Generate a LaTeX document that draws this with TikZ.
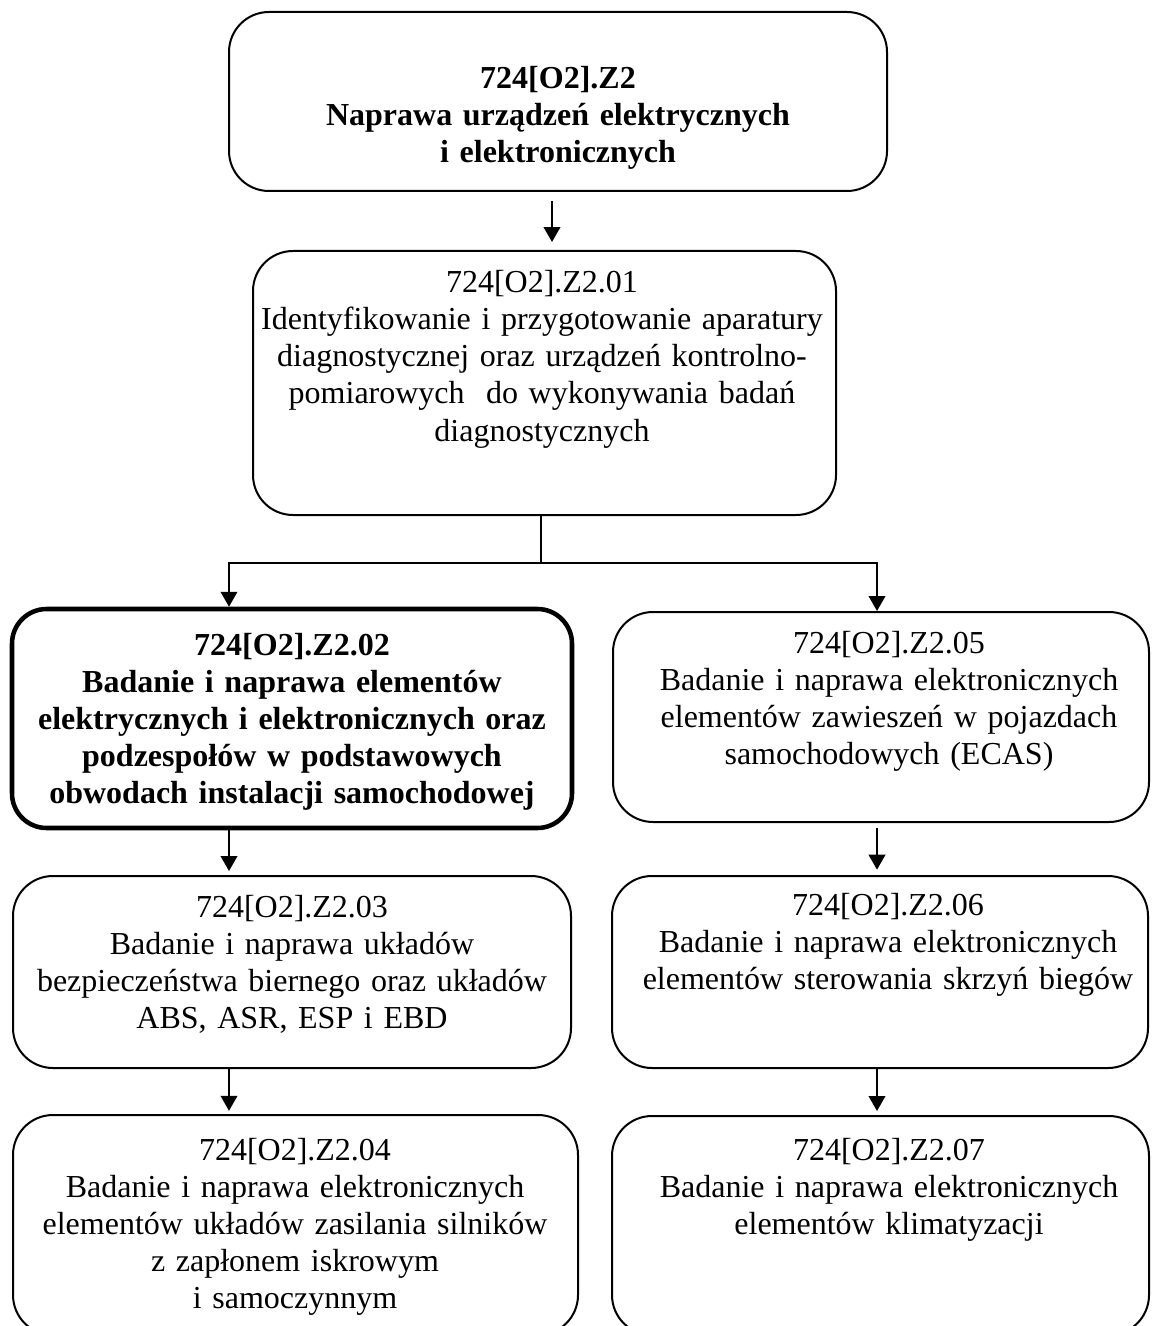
\documentclass[tikz,border=0pt]{standalone}
\usepackage{fontspec}
\setmainfont{Liberation Serif}
\usetikzlibrary{
    calc,
    arrows.meta
}

\begin{document}
\begin{tikzpicture}[x=0.375pt,y=-0.375pt,line width=0.75pt,
    box/.style={draw,rounded corners=15pt,inner sep=0pt},
    mainbox/.style={box,line width=1.7pt,rounded corners=13pt},
    txt/.style={anchor=base,align=center,text width=236pt,inner sep=0pt,
        font=\fontsize{12}{13.875}\selectfont},
    arr/.style={-{Triangle[length=5.6pt,width=6.2pt]}}
]

\useasboundingbox (0,0) rectangle (1153,1326);
\clip (0,0) rectangle (1153,1326);

% boxes
\node[box,minimum width=246.75pt,minimum height=67.125pt] (z2) at (558,101.5) {};
\node[box,minimum width=218.625pt,minimum height=99pt] (z01) at (544.5,383) {};
\node[mainbox,minimum width=210pt,minimum height=82.125pt] (z02) at (292,718.5) {};
\node[box,minimum width=201pt,minimum height=78.75pt] (z05) at (881,717) {};
\node[box,minimum width=209.25pt,minimum height=72pt] (z03) at (292,972) {};
\node[box,minimum width=201pt,minimum height=72pt] (z06) at (880,972) {};
\node[box,minimum width=211.875pt,minimum height=82.5pt] (z04) at (295.5,1225) {};
\node[box,minimum width=201.375pt,minimum height=82.125pt] (z07) at (880.5,1225.5) {};

% texts
\node[txt,font=\fontsize{12}{13.875}\selectfont\bfseries] (t2) at (558,89)
    {724[O2].Z2\\Naprawa urządzeń elektrycznych\\i elektronicznych};
\node[txt] (t01) at (542,293)
    {724[O2].Z2.01\\Identyfikowanie i przygotowanie aparatury\\diagnostycznej oraz urządzeń kontrolno-\\pomiarowych\ \ do wykonywania badań\\diagnostycznych};
\node[txt,font=\fontsize{12}{13.875}\selectfont\bfseries] (t02) at (292,655)
    {724[O2].Z2.02\\Badanie i naprawa elementów\\elektrycznych i elektronicznych oraz\\podzespołów w podstawowych\\obwodach instalacji samochodowej};
\node[txt] (t05) at (889,653)
    {724[O2].Z2.05\\Badanie i naprawa elektronicznych\\elementów zawieszeń w pojazdach\\samochodowych (ECAS)};
\node[txt] (t03) at (292,917)
    {724[O2].Z2.03\\Badanie i naprawa układów\\bezpieczeństwa biernego oraz układów\\ABS, ASR, ESP i EBD};
\node[txt] (t06) at (888,915)
    {724[O2].Z2.06\\Badanie i naprawa elektronicznych\\elementów sterowania skrzyń biegów};
\node[txt] (t04) at (295,1160)
    {724[O2].Z2.04\\Badanie i naprawa elektronicznych\\elementów układów zasilania silników\\z zapłonem iskrowym\\i samoczynnym};
\node[txt] (t07) at (889,1160)
    {724[O2].Z2.07\\Badanie i naprawa elektronicznych\\elementów klimatyzacji};

% connectors
\coordinate (a0) at (552,0);
\coordinate (jn) at (541,563);
\coordinate (lx) at (229,0);
\coordinate (rx) at (877,0);

\draw[arr,shorten <=3.4pt,shorten >=3pt] (z2.south -| a0) -- (z01.north -| a0);
\draw (z01.south -| jn) -- (jn);
\draw[arr] (jn) -| (z02.north -| lx);
\draw[arr] (jn) -| (z05.north -| rx);
\draw[arr,shorten >=1.5pt] (z02.south -| lx) -- (z03.north -| lx);
\draw[arr,shorten >=1.2pt] (z03.south -| lx) -- (z04.north -| lx);
\draw[arr,shorten <=2pt,shorten >=2pt] (z05.south -| rx) -- (z06.north -| rx);
\draw[arr,shorten >=1.5pt] (z06.south -| rx) -- (z07.north -| rx);

\end{tikzpicture}
\end{document}
